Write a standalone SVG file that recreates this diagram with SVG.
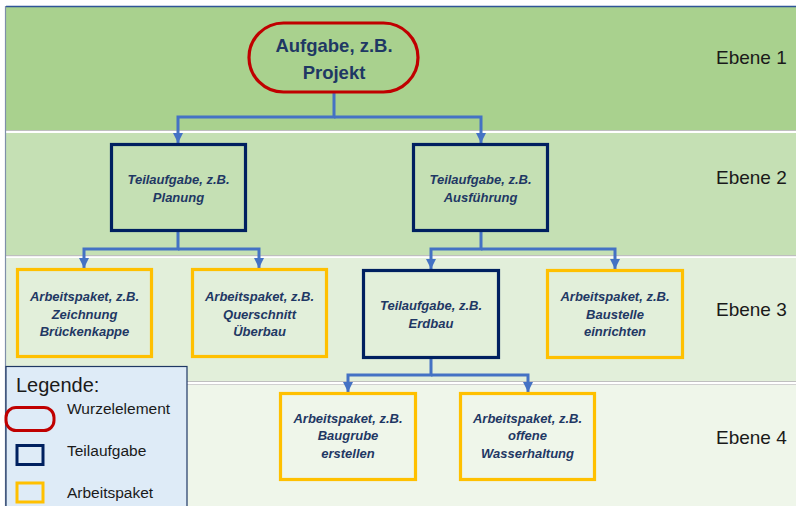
<svg xmlns="http://www.w3.org/2000/svg" width="796" height="506" viewBox="0 0 796 506">
<defs>
<marker id="arr" viewBox="0 0 10 10" refX="10" refY="5" markerWidth="3.4" markerHeight="3.4" orient="auto" markerUnits="strokeWidth">
<path d="M0,0 L10,5 L0,10 z" fill="#4472c4"/>
</marker>
<style>
.band{stroke:none}
.node-t{font-family:"Liberation Sans",Arial,sans-serif;font-weight:bold;font-style:italic;font-size:13px;fill:#1f3864;text-anchor:middle}
.root-t{font-family:"Liberation Sans",Arial,sans-serif;font-weight:bold;font-size:18.5px;fill:#1f3864;text-anchor:middle}
.lvl{font-family:"Liberation Sans",Arial,sans-serif;font-size:19px;fill:#1a1a1a}
.leg{font-family:"Liberation Sans",Arial,sans-serif;font-size:15.5px;fill:#1a1a1a}
.ta{fill:none;stroke:#002060;stroke-width:3.2}
.ap{fill:none;stroke:#ffc000;stroke-width:3.2}
.conn{fill:none;stroke:#4472c4;stroke-width:3}
</style>
</defs>
<rect x="0" y="0" width="796" height="506" fill="#ffffff"/>
<g id="bands">
<rect class="band" x="6" y="7" width="790" height="123" fill="#a9d18e"/>
<rect x="6" y="130" width="790" height="1" fill="#bfbfbf"/>
<rect class="band" x="6" y="133" width="790" height="122" fill="#c5e0b4"/>
<rect x="6" y="255" width="790" height="1.2" fill="#bfbfbf"/>
<rect class="band" x="6" y="258" width="790" height="123" fill="#e2efda"/>
<rect x="6" y="381" width="790" height="1" fill="#bfbfbf"/>
<rect x="6" y="384" width="790" height="1" fill="#d0d0d0"/>
<rect class="band" x="6" y="385" width="790" height="121" fill="#eff6ea"/>
<line x1="6" y1="6.5" x2="796" y2="6.5" stroke="#2f5597" stroke-width="1.5"/>
<line x1="5.5" y1="6" x2="5.5" y2="506" stroke="#7f8fa9" stroke-width="1.2"/>
</g>
<g id="levels">
<text class="lvl" x="716" y="64">Ebene 1</text>
<text class="lvl" x="716" y="184">Ebene 2</text>
<text class="lvl" x="716" y="316">Ebene 3</text>
<text class="lvl" x="716" y="444">Ebene 4</text>
</g>
<g id="connectors">
<path class="conn" d="M334,92 V117 H178 V143" marker-end="url(#arr)"/>
<path class="conn" d="M334,117 H481 V143" marker-end="url(#arr)"/>
<path class="conn" d="M178,231 V249 H84 V268" marker-end="url(#arr)"/>
<path class="conn" d="M178,249 H259 V268" marker-end="url(#arr)"/>
<path class="conn" d="M481,231 V249 H431 V269" marker-end="url(#arr)"/>
<path class="conn" d="M481,249 H615 V269" marker-end="url(#arr)"/>
<path class="conn" d="M431,358 V375 H348 V392" marker-end="url(#arr)"/>
<path class="conn" d="M431,375 H528 V392" marker-end="url(#arr)"/>
</g>
<g id="root">
<rect x="249" y="23" width="169" height="69" rx="34.5" fill="none" stroke="#c00000" stroke-width="3.2"/>
<text class="root-t" x="334" y="52">Aufgabe, z.B.</text>
<text class="root-t" x="334" y="79">Projekt</text>
</g>
<g id="ta-planung">
<rect class="ta" x="111.5" y="144.5" width="134" height="86"/>
<text class="node-t" x="178.5" y="184">Teilaufgabe, z.B.</text>
<text class="node-t" x="178.5" y="202">Planung</text>
</g>
<g id="ta-ausfuehrung">
<rect class="ta" x="413.5" y="144.5" width="134" height="86"/>
<text class="node-t" x="480.5" y="184">Teilaufgabe, z.B.</text>
<text class="node-t" x="480.5" y="202">Ausführung</text>
</g>
<g id="ap-zeichnung">
<rect class="ap" x="17.5" y="269.5" width="134" height="87"/>
<text class="node-t" x="84.5" y="301">Arbeitspaket, z.B.</text>
<text class="node-t" x="84.5" y="318.5">Zeichnung</text>
<text class="node-t" x="84.5" y="336">Brückenkappe</text>
</g>
<g id="ap-querschnitt">
<rect class="ap" x="192.5" y="269.5" width="134" height="87"/>
<text class="node-t" x="259.5" y="301">Arbeitspaket, z.B.</text>
<text class="node-t" x="259.5" y="318.5">Querschnitt</text>
<text class="node-t" x="259.5" y="336">Überbau</text>
</g>
<g id="ta-erdbau">
<rect class="ta" x="363.5" y="270.5" width="135" height="87"/>
<text class="node-t" x="431" y="310">Teilaufgabe, z.B.</text>
<text class="node-t" x="431" y="327.5">Erdbau</text>
</g>
<g id="ap-baustelle">
<rect class="ap" x="547.5" y="270.5" width="135" height="87"/>
<text class="node-t" x="615" y="301">Arbeitspaket, z.B.</text>
<text class="node-t" x="615" y="318.5">Baustelle</text>
<text class="node-t" x="615" y="336">einrichten</text>
</g>
<g id="ap-baugrube">
<rect class="ap" x="280.5" y="393.5" width="135" height="86"/>
<text class="node-t" x="348" y="423">Arbeitspaket, z.B.</text>
<text class="node-t" x="348" y="440">Baugrube</text>
<text class="node-t" x="348" y="457.5">erstellen</text>
</g>
<g id="ap-wasserhaltung">
<rect class="ap" x="460.5" y="393.5" width="134" height="86"/>
<text class="node-t" x="527.5" y="423">Arbeitspaket, z.B.</text>
<text class="node-t" x="527.5" y="440">offene</text>
<text class="node-t" x="527.5" y="457.5">Wasserhaltung</text>
</g>
<g id="legend">
<rect x="6" y="366.5" width="181" height="145" fill="#deebf7" stroke="#1f3864" stroke-width="1.2"/>
<text x="16" y="392" font-family="Liberation Sans, Arial, sans-serif" font-size="20" fill="#1a1a1a">Legende:</text>
<rect x="6" y="407.5" width="48" height="23" rx="10" fill="none" stroke="#c00000" stroke-width="3"/>
<text class="leg" x="67" y="414">Wurzelelement</text>
<rect x="17" y="445.5" width="26" height="19" fill="none" stroke="#002060" stroke-width="3"/>
<text class="leg" x="67" y="456">Teilaufgabe</text>
<rect x="17" y="483" width="26" height="19" fill="none" stroke="#ffc000" stroke-width="3"/>
<text class="leg" x="67" y="498">Arbeitspaket</text>
</g>
</svg>
